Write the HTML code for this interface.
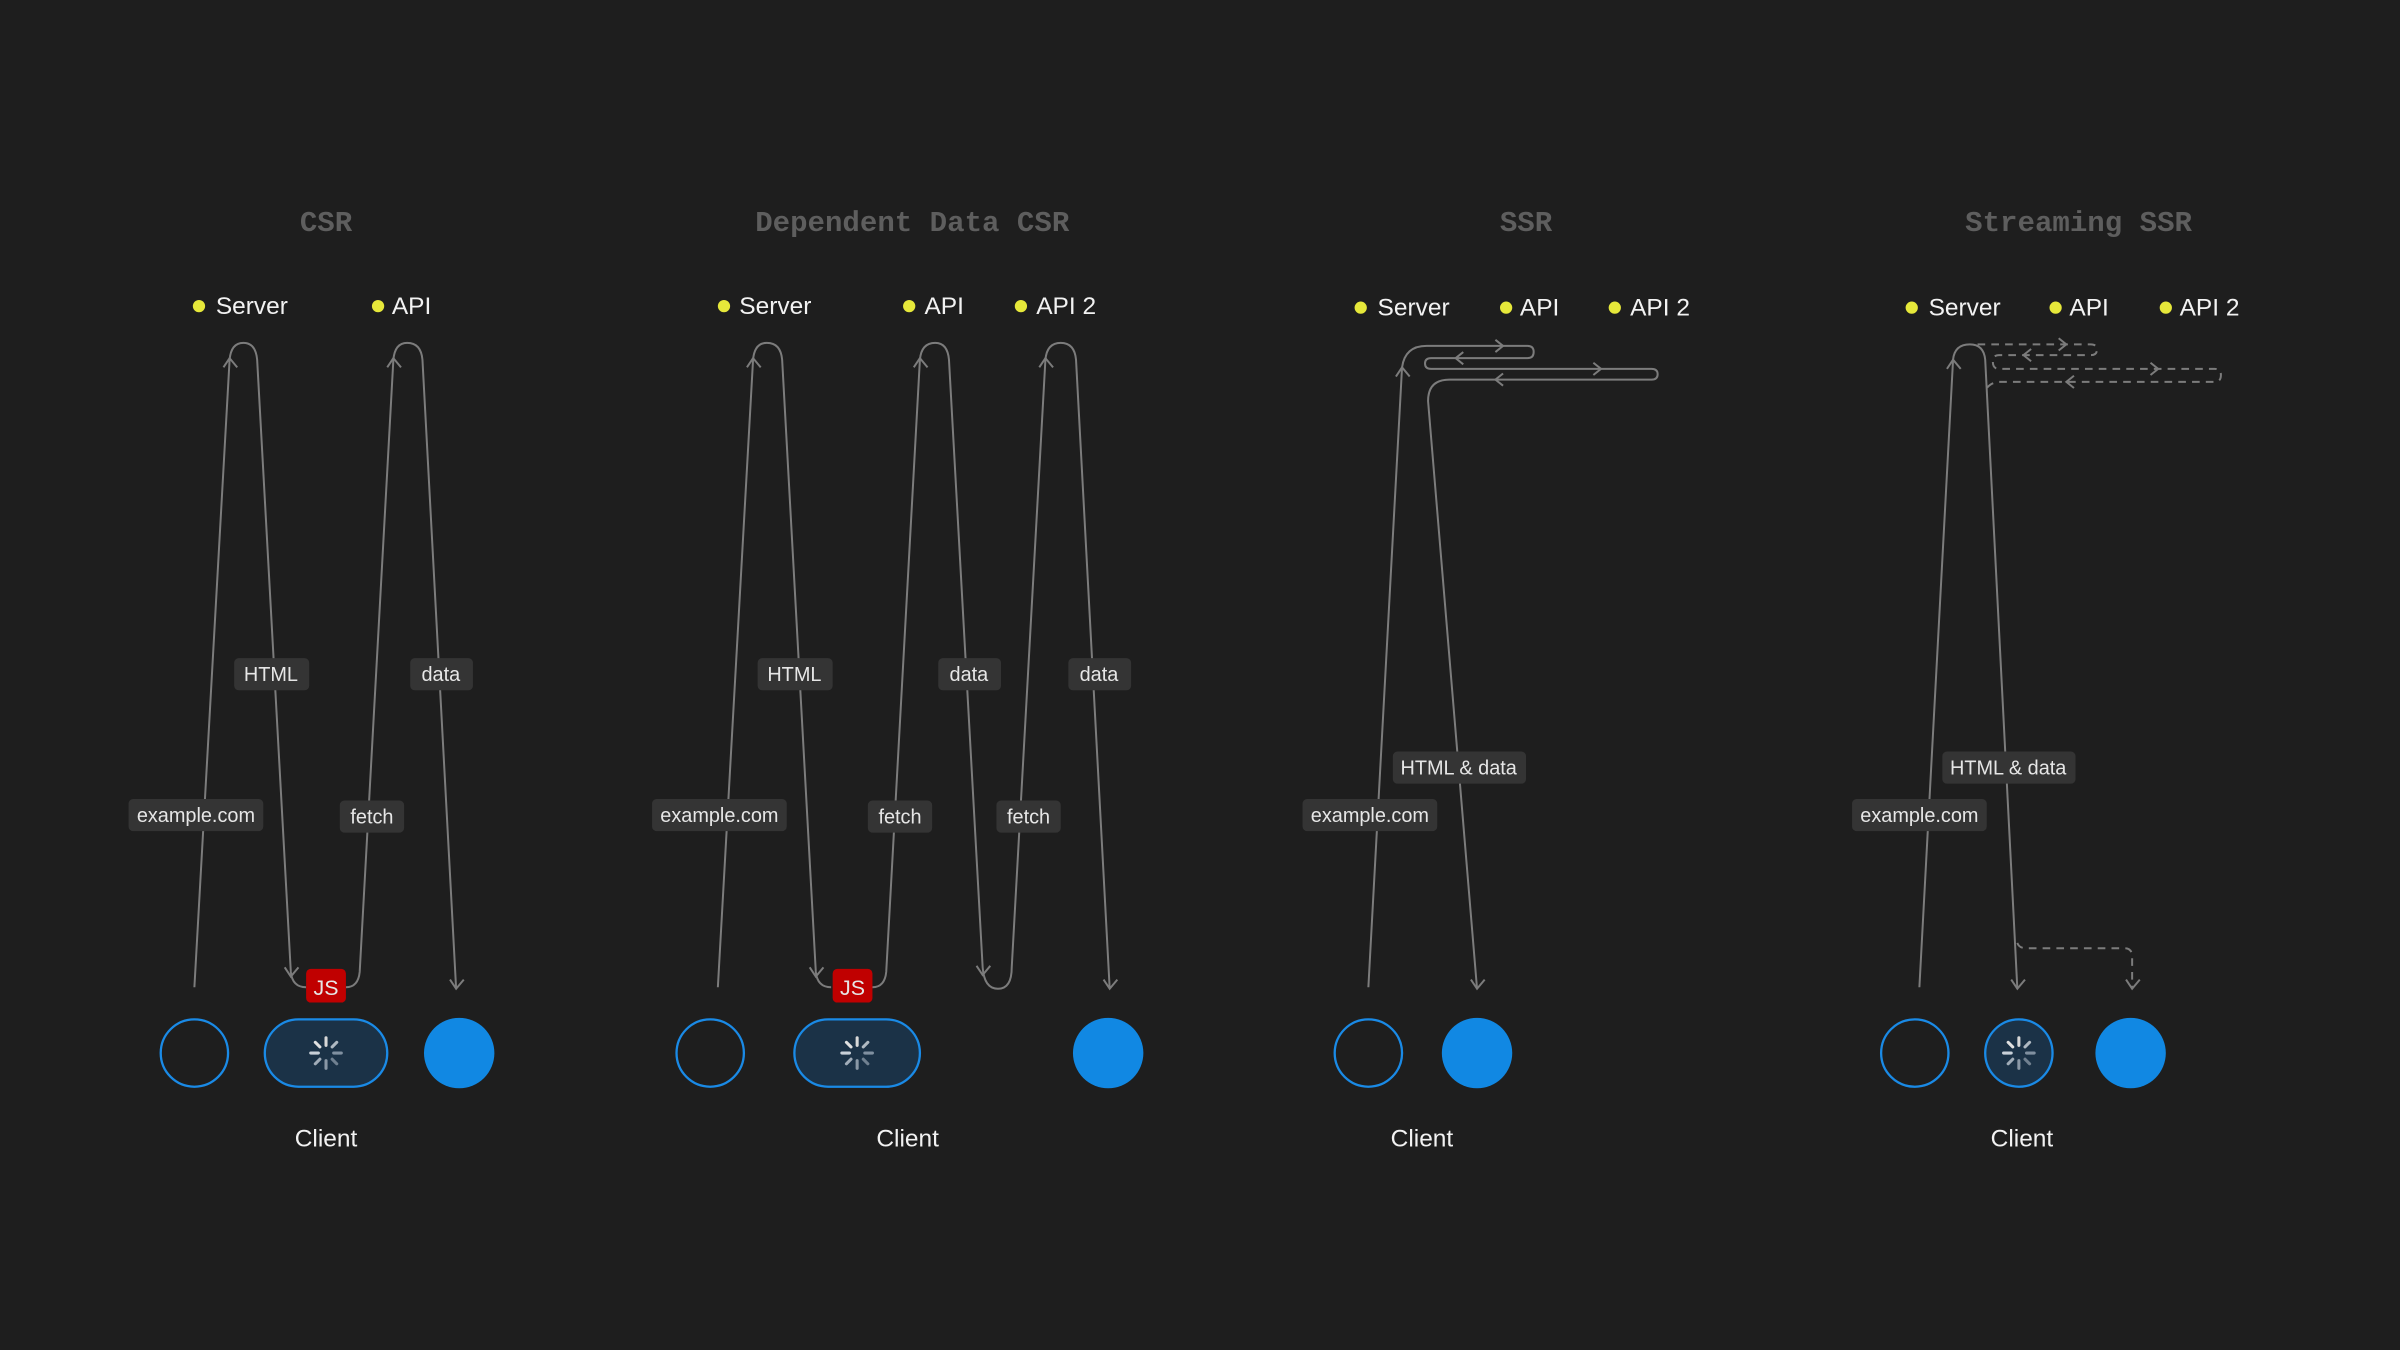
<!DOCTYPE html>
<html><head><meta charset="utf-8"><style>
html,body{margin:0;padding:0;background:#1e1e1e;}
svg{display:block}
.t{font-family:"Liberation Mono",monospace;font-weight:bold;font-size:19px;fill:#5e5e5e;text-anchor:middle}
.lg{font-family:"Liberation Sans",sans-serif;font-size:16px;fill:#f2f2f2}
.cl{font-family:"Liberation Sans",sans-serif;font-size:16px;fill:#f2f2f2;text-anchor:middle}
.lb{font-family:"Liberation Sans",sans-serif;font-size:13px;fill:#e6e6e6;text-anchor:middle}
.ln{fill:none;stroke:#7c7c7c;stroke-width:1.3}
.ds{fill:none;stroke:#7c7c7c;stroke-width:1.3;stroke-dasharray:5 4}
.bx{fill:#343434}
</style></head><body>
<svg width="2400" height="1350" viewBox="0 0 1568 882" xmlns="http://www.w3.org/2000/svg">
<defs>
<g id="sp">
<g stroke-width="2" stroke-linecap="round">
<line x1="0" y1="-10" x2="0" y2="-5" stroke="#d8d8d8"/>
<line x1="7" y1="-7" x2="4" y2="-4" stroke="#c0c8d0" opacity=".9"/>
<line x1="10" y1="0" x2="5" y2="0" stroke="#8090a0"/>
<line x1="7" y1="7" x2="4" y2="4" stroke="#708090"/>
<line x1="0" y1="10" x2="0" y2="5" stroke="#8a98a6"/>
<line x1="-7" y1="7" x2="-4" y2="4" stroke="#a0acb8"/>
<line x1="-10" y1="0" x2="-5" y2="0" stroke="#c8d0d8"/>
<line x1="-7" y1="-7" x2="-4" y2="-4" stroke="#e0e0e0"/>
</g></g>
</defs>

<!-- ============ CSR ============ -->
<text class="t" x="213" y="151">CSR</text>
<circle cx="130" cy="200" r="4" fill="#e6e83a"/><text class="lg" x="141" y="205">Server</text>
<circle cx="247" cy="200" r="4" fill="#e6e83a"/><text class="lg" x="256" y="205">API</text>
<path class="ln" d="M127,645 L150,235 Q151,224 159,224 Q167,224 168,235 L190,635 Q191,645 200,645"/>
<path class="ln" d="M226,645 Q234,645 235,635 L257,235 Q258,224 266,224 Q275,224 276,235 L298,646"/>
<path class="ln" d="M146,240 L150,234 L155,240 M253,240 L257,234 L262,240 M186,632 L190,638 L195,632 M294,640 L298,646 L303,640"/>
<rect class="bx" x="84" y="522" width="88" height="21" rx="3"/><text class="lb" x="128" y="537">example.com</text>
<rect class="bx" x="153" y="430" width="49" height="21" rx="3"/><text class="lb" x="177" y="445">HTML</text>
<rect class="bx" x="222" y="523" width="42" height="21" rx="3"/><text class="lb" x="243" y="538">fetch</text>
<rect class="bx" x="268" y="430" width="41" height="21" rx="3"/><text class="lb" x="288" y="445">data</text>
<rect x="200" y="633" width="26" height="22" rx="3" fill="#c00000"/><text class="lb" x="213" y="650" style="font-size:14px">JS</text>
<circle cx="127" cy="688" r="22" fill="none" stroke="#1a8ae6" stroke-width="1.5"/>
<rect x="173" y="666" width="80" height="44" rx="22" fill="#1b3247" stroke="#1a8ae6" stroke-width="1.5"/>
<use href="#sp" x="213" y="688"/>
<circle cx="300" cy="688" r="23" fill="#1188e3"/>
<text class="cl" x="213" y="749">Client</text>

<!-- ============ Dependent Data CSR ============ -->
<text class="t" x="596" y="151">Dependent Data CSR</text>
<circle cx="473" cy="200" r="4" fill="#e6e83a"/><text class="lg" x="483" y="205">Server</text>
<circle cx="594" cy="200" r="4" fill="#e6e83a"/><text class="lg" x="604" y="205">API</text>
<circle cx="667" cy="200" r="4" fill="#e6e83a"/><text class="lg" x="677" y="205">API 2</text>
<path class="ln" d="M469,645 L492,235 Q493,224 501,224 Q510,224 511,235 L533,635 Q534,645 543,645"/>
<path class="ln" d="M570,645 Q578,645 579,635 L601,235 Q602,224 611,224 Q619,224 620,235 L642,632 Q643,646 652,646 Q661,646 661,632 L683,235 Q684,224 693,224 Q702,224 703,235 L725,646"/>
<path class="ln" d="M488,240 L492,234 L497,240 M597,240 L601,234 L606,240 M679,240 L683,234 L688,240 M529,632 L533,638 L538,632 M638,631 L642,637 L647,631 M721,640 L725,646 L730,640"/>
<rect class="bx" x="426" y="522" width="88" height="21" rx="3"/><text class="lb" x="470" y="537">example.com</text>
<rect class="bx" x="495" y="430" width="49" height="21" rx="3"/><text class="lb" x="519" y="445">HTML</text>
<rect class="bx" x="567" y="523" width="42" height="21" rx="3"/><text class="lb" x="588" y="538">fetch</text>
<rect class="bx" x="613" y="430" width="41" height="21" rx="3"/><text class="lb" x="633" y="445">data</text>
<rect class="bx" x="651" y="523" width="42" height="21" rx="3"/><text class="lb" x="672" y="538">fetch</text>
<rect class="bx" x="698" y="430" width="41" height="21" rx="3"/><text class="lb" x="718" y="445">data</text>
<rect x="544" y="633" width="26" height="22" rx="3" fill="#c00000"/><text class="lb" x="557" y="650" style="font-size:14px">JS</text>
<circle cx="464" cy="688" r="22" fill="none" stroke="#1a8ae6" stroke-width="1.5"/>
<rect x="519" y="666" width="82" height="44" rx="22" fill="#1b3247" stroke="#1a8ae6" stroke-width="1.5"/>
<use href="#sp" x="560" y="688"/>
<circle cx="724" cy="688" r="23" fill="#1188e3"/>
<text class="cl" x="593" y="749">Client</text>

<!-- ============ SSR ============ -->
<text class="t" x="997" y="151">SSR</text>
<circle cx="889" cy="201" r="4" fill="#e6e83a"/><text class="lg" x="900" y="206">Server</text>
<circle cx="984" cy="201" r="4" fill="#e6e83a"/><text class="lg" x="993" y="206">API</text>
<circle cx="1055" cy="201" r="4" fill="#e6e83a"/><text class="lg" x="1065" y="206">API 2</text>
<path class="ln" d="M894,645 L916,240 Q918,226 932,226 L998,226 Q1002,226 1002,230 Q1002,234 998,234 L935,234 Q931,234 931,237.5 Q931,241 935,241 L1079,241 Q1083,241 1083,244.5 Q1083,248 1079,248 L947,248 Q933,248 933,262 L965,646"/>
<path class="ln" d="M912,246 L916,240 L921,246 M977,222 L982,226 L977,230 M956,230 L951,234 L956,238 M1041,237 L1046,241 L1041,245 M982,244 L977,248 L982,252 M961,640 L965,646 L970,640"/>
<rect class="bx" x="851" y="522" width="88" height="21" rx="3"/><text class="lb" x="895" y="537">example.com</text>
<rect class="bx" x="910" y="491" width="87" height="21" rx="3"/><text class="lb" x="953" y="506">HTML &amp; data</text>
<circle cx="894" cy="688" r="22" fill="none" stroke="#1a8ae6" stroke-width="1.5"/>
<circle cx="965" cy="688" r="23" fill="#1188e3"/>
<text class="cl" x="929" y="749">Client</text>

<!-- ============ Streaming SSR ============ -->
<text class="t" x="1358" y="151">Streaming SSR</text>
<circle cx="1249" cy="201" r="4" fill="#e6e83a"/><text class="lg" x="1260" y="206">Server</text>
<circle cx="1343" cy="201" r="4" fill="#e6e83a"/><text class="lg" x="1352" y="206">API</text>
<circle cx="1415" cy="201" r="4" fill="#e6e83a"/><text class="lg" x="1424" y="206">API 2</text>
<path class="ln" d="M1254,645 L1276,235 Q1277,225 1287,225 Q1296,225 1297,235 L1318,646"/>
<path class="ds" d="M1292,225 L1366,225 Q1370,225 1370,228.5 Q1370,232 1366,232 L1306,232 Q1302,232 1302,236.5 Q1302,241 1306,241 L1447,241 Q1451,241 1451,245 Q1451,249.5 1447,249.5 L1306,249.5 Q1300,250 1297,255"/>
<path class="ds" d="M1318,616 Q1319,619.5 1324,619.5 L1388,619.5 Q1393,619.5 1393,625 L1393,645"/>
<path class="ln" d="M1272,241 L1276,235 L1281,241 M1345,221 L1350,225 L1345,229 M1327,228 L1322,232 L1327,236 M1405,237 L1410,241 L1405,245 M1355,245.5 L1350,249.5 L1355,253.5 M1314,640 L1318,646 L1323,640 M1389,640 L1393,646 L1398,640"/>
<rect class="bx" x="1210" y="522" width="88" height="21" rx="3"/><text class="lb" x="1254" y="537">example.com</text>
<rect class="bx" x="1269" y="491" width="87" height="21" rx="3"/><text class="lb" x="1312" y="506">HTML &amp; data</text>
<circle cx="1251" cy="688" r="22" fill="none" stroke="#1a8ae6" stroke-width="1.5"/>
<circle cx="1319" cy="688" r="22" fill="#1b3247" stroke="#1a8ae6" stroke-width="1.5"/>
<use href="#sp" x="1319" y="688"/>
<circle cx="1392" cy="688" r="23" fill="#1188e3"/>
<text class="cl" x="1321" y="749">Client</text>
</svg>
</body></html>
